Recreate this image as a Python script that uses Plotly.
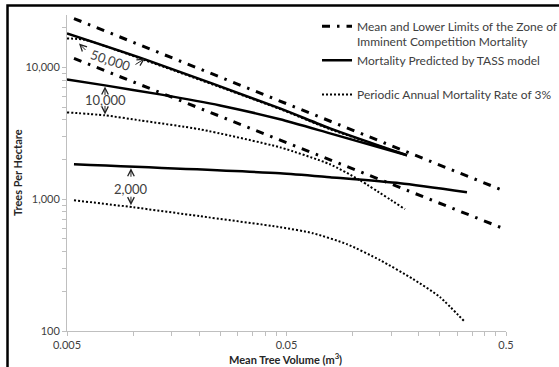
import math
import plotly.graph_objects as go

# ---------------- data ----------------
# Zone of Imminent Competition Mortality (mean and lower limits)
zicm_mean_x = [0.00538, 0.495]
zicm_mean_y = [23500, 1150]
zicm_low_x = [0.00538, 0.495]
zicm_low_y = [11700, 593]

# Mortality predicted by TASS model (initial densities 50,000 / 10,000 / 2,000)
tass50_x = [0.005, 0.01133, 0.0467, 0.0789, 0.177]
tass50_y = [18100, 11500, 4890, 3450, 2155]
tass10_x = [0.005, 0.00745, 0.01326, 0.0249, 0.0467, 0.0789, 0.177]
tass10_y = [8110, 7310, 6245, 5150, 4040, 3160, 2155]
tass2_x = [0.00538, 0.0467, 0.0789, 0.1645, 0.332]
tass2_y = [1841, 1574, 1468, 1321, 1130]

# Periodic annual mortality rate of 3%
pam50_x = [0.005, 0.00604, 0.01133, 0.0467, 0.0789, 0.1645]
pam50_y = [16590, 16200, 11350, 4830, 3400, 2250]
pam10_x = [0.005, 0.00745, 0.01075, 0.0202, 0.0467, 0.0789, 0.108, 0.1733]
pam10_y = [4560, 4330, 3965, 3390, 2475, 1841, 1393, 840]
pam2_x = [0.00538, 0.0100, 0.0202, 0.0467, 0.066, 0.0943, 0.1334, 0.1885, 0.250, 0.325]
pam2_y = [982, 869, 743, 614, 552, 456, 345, 248, 181, 117]

x_tickvals = [0.005, 0.05, 0.5]
x_ticktext = ["0.005", "0.05", "0.5"]
y_tickvals = [100, 1000, 10000]
y_ticktext = ["100", "1,000", "10,000"]
x_minor = [m * 0.005 for m in range(2, 10)] + [m * 0.05 for m in range(2, 10)]
y_minor = [m * 100 for m in range(2, 10)] + [m * 1000 for m in range(2, 10)] + [20000]

series_names = [
    "Mean and Lower Limits of the Zone of<br>Imminent Competition Mortality",
    "Mortality Predicted by TASS model<br>\u00a0",
    "Periodic Annual Mortality Rate of 3%",
]
density_labels = ["50,000", "10,000", "2,000"]


def join(xs, ys):
    X, Y = [], []
    for a, b in zip(xs, ys):
        if X:
            X.append(None)
            Y.append(None)
        X += a
        Y += b
    return X, Y


FONT = "Lato, 'Open Sans', sans-serif"
TXT = "#404040"
AX = "#BFBFBF"

fig = go.Figure()

dx, dy = join([pam50_x, pam10_x, pam2_x], [pam50_y, pam10_y, pam2_y])
fig.add_trace(go.Scatter(x=dx, y=dy, mode="lines", name=series_names[2], legendrank=3,
                         line=dict(color="black", width=2, dash="2px,2px", shape="spline", smoothing=0.6)))
sx, sy = join([tass50_x, tass10_x, tass2_x], [tass50_y, tass10_y, tass2_y])
fig.add_trace(go.Scatter(x=sx, y=sy, mode="lines", name=series_names[1], legendrank=2,
                         line=dict(color="black", width=2.5, shape="spline", smoothing=0.6)))
zx, zy = join([zicm_mean_x, zicm_low_x], [zicm_mean_y, zicm_low_y])
fig.add_trace(go.Scatter(x=zx, y=zy, mode="lines", name=series_names[0], legendrank=1,
                         line=dict(color="black", width=3, dash="8px,7px,2.5px,7px")))

L = math.log10
ann = []
# density labels
ann.append(dict(x=L(0.00785), y=L(11300), text=density_labels[0], showarrow=False, textangle=18,
                font=dict(family=FONT, size=13, color=TXT)))
ann.append(dict(x=L(0.00745), y=L(5620), text=density_labels[1], showarrow=False,
                font=dict(family=FONT, size=13, color=TXT)))
ann.append(dict(x=L(0.00978), y=L(1190), text=density_labels[2], showarrow=False,
                font=dict(family=FONT, size=13, color=TXT)))
# small open arrows pointing at the lines
arrows = [
    (0.00567, 15200, 8, 8),
    (0.01133, 11700, -11, 7),
    (0.00745, 7180, 0, 10),
    (0.00745, 4400, 0, -10),
    (0.00978, 1717, 0, 10),
    (0.00978, 901, 0, -10),
]
for ax_, ay_, ox, oy in arrows:
    ann.append(dict(x=L(ax_), y=L(ay_), ax=ox, ay=oy, text="", showarrow=True,
                    arrowhead=5, arrowsize=1.3, arrowwidth=1, arrowcolor="#222222", standoff=0))
# axis titles
ann.append(dict(xref="paper", yref="paper", x=-0.1139, y=0.503, xanchor="center", yanchor="middle",
                text="<b>Trees Per Hectare</b>",
                textangle=-90, showarrow=False, font=dict(family=FONT, size=11, color="#262626")))
ann.append(dict(xref="paper", yref="paper", x=0.4966, y=-0.0870, xanchor="center", yanchor="middle",
                text="<b>Mean Tree Volume (m<sup>3</sup>)</b>",
                showarrow=False, font=dict(family=FONT, size=11, color="#262626")))

fig.update_layout(
    width=559, height=367,
    margin=dict(l=67, r=53, t=15, b=36, autoexpand=False),
    paper_bgcolor="white", plot_bgcolor="white",
    font=dict(family=FONT, color=TXT),
    annotations=ann,
    showlegend=True,
    legend=dict(x=0.5695, y=1.010, xanchor="left", yanchor="top", valign="top",
                font=dict(family=FONT, size=12, color=TXT), bgcolor="rgba(0,0,0,0)",
                traceorder="normal"),
    shapes=[dict(type="rect", xref="paper", yref="paper", x0=-0.1355, x1=1.3, y0=-0.4, y1=1.030,
                 line=dict(color="black", width=2.5), fillcolor="rgba(0,0,0,0)")],
)
fig.update_xaxes(type="log", range=[L(0.005), L(0.5)], tickmode="array", tickvals=x_tickvals,
                 ticktext=x_ticktext, ticks="outside", ticklen=4, tickcolor=AX, showline=True,
                 linecolor=AX, linewidth=1, showgrid=False, zeroline=False,
                 tickfont=dict(family=FONT, size=11, color=TXT),
                 minor=dict(tickmode="array", tickvals=x_minor, ticks="outside", ticklen=4,
                            tickcolor=AX, showgrid=False))
fig.update_yaxes(type="log", range=[2, L(25000)], tickmode="array", tickvals=y_tickvals,
                 ticktext=y_ticktext, ticks="outside", ticklen=4, tickcolor=AX, showline=True,
                 linecolor=AX, linewidth=1, showgrid=False, zeroline=False,
                 tickfont=dict(family=FONT, size=11, color=TXT),
                 minor=dict(tickmode="array", tickvals=y_minor, ticks="outside", ticklen=4,
                            tickcolor=AX, showgrid=False))

fig.write_html("out.html", config={"displayModeBar": False},
               post_script="document.body.style.margin='0';document.body.style.overflow='hidden';")
